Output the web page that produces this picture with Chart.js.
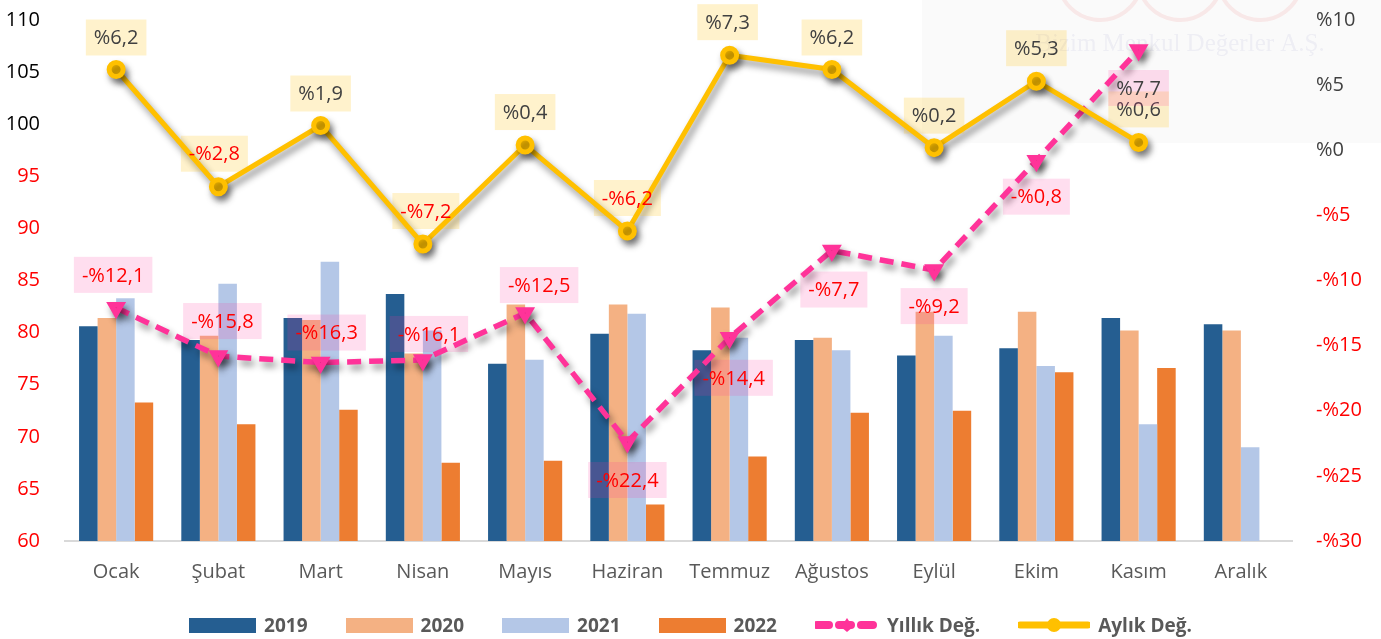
<!DOCTYPE html>
<html lang="tr">
<head>
<meta charset="utf-8">
<title>Aylık / Yıllık Değişim</title>
<script src="https://cdn.jsdelivr.net/npm/chart.js@4/dist/chart.umd.min.js"></script>
<style>
html,body{margin:0;padding:0;background:#fff;}
#wrap{position:relative;width:1381px;height:639px;}
#legend{position:absolute;left:0;top:612px;width:1381px;height:26px;display:flex;justify-content:center;align-items:center;gap:38px;
  font-family:"Open Sans",sans-serif;font-weight:bold;font-size:19px;color:#595959;}
#legend .item{display:flex;align-items:center;gap:8px;}
#legend .box{width:67px;height:15px;}
</style>
</head>
<body>
<div id="wrap">
  <canvas id="chart" width="1381" height="639"></canvas>
  <div id="legend"></div>
</div>
<script>
const months=["Ocak","Şubat","Mart","Nisan","Mayıs","Haziran","Temmuz","Ağustos","Eylül","Ekim","Kasım","Aralık"];
const v2019=[80.6,79.3,81.4,83.7,77.0,79.9,78.3,79.3,77.8,78.5,81.4,80.8];
const v2020=[81.4,79.7,81.2,78.0,82.7,82.7,82.4,79.5,82.0,82.0,80.2,80.2];
const v2021=[83.3,84.7,86.8,80.2,77.4,81.8,79.5,78.3,79.7,76.8,71.2,69.0];
const v2022=[73.3,71.2,72.6,67.5,67.7,63.5,68.1,72.3,72.5,76.2,76.6,null];
const yillik=[-12.1,-15.8,-16.3,-16.1,-12.5,-22.4,-14.4,-7.7,-9.2,-0.8,7.7,null];
const aylik=[6.2,-2.8,1.9,-7.2,0.4,-6.2,7.3,6.2,0.2,5.3,0.6,null];
const leftTicks={min:60,max:110,step:5};
const rightTicks={min:-30,max:10,step:5};

// label offsets (px) from each point
const yillikOff=[[-3,-33],[4,-35],[6,-30],[6,-26],[14,-28],[0,38],[4,40],[2,39],[0,36],[0,36],[0,38],[0,0]];
const aylikOff=[[0,-32],[-4,-33],[0,-32],[3,-33],[0,-33],[0,-33],[-2,-33],[0,-32],[0,-32],[0,-33],[0,-33],[0,0]];

const FONT='"Open Sans", sans-serif';
const pink="#FF3399",gold="#FFC000";
const fmtPct=v=>(v<0?"-%":"%")+Math.abs(v).toFixed(1).replace(".",",");

const watermark={id:"watermark",beforeDraw(c){
  const ctx=c.ctx;ctx.save();
  ctx.fillStyle="rgba(0,0,0,0.018)";ctx.fillRect(922,0,459,143);
  ctx.strokeStyle="rgba(240,160,160,0.2)";ctx.lineWidth=4;
  [1100,1180,1260].forEach(x=>{ctx.beginPath();ctx.arc(x,-22,42,0.15,Math.PI-0.15);ctx.stroke();});
  ctx.fillStyle="rgba(190,190,220,0.22)";ctx.font='25px "Liberation Serif", serif';ctx.textAlign="center";ctx.textBaseline="middle";
  ctx.fillText("Bizim Menkul Değerler A.Ş.",1180,44);
  ctx.restore();
}};
const shadow={id:"shadow",
  beforeDatasetDraw(c,a){if(c.data.datasets[a.index].type!=="line")return;const ctx=c.ctx;ctx.save();
    ctx.shadowColor="rgba(0,0,0,0.45)";ctx.shadowBlur=7;ctx.shadowOffsetX=3;ctx.shadowOffsetY=5;},
  afterDatasetDraw(c,a){if(c.data.datasets[a.index].type==="line")c.ctx.restore();}
};
const boxLabels={id:"boxLabels",afterDatasetsDraw(c){
  const ctx=c.ctx;ctx.save();ctx.font="20px "+FONT;ctx.textAlign="center";ctx.textBaseline="middle";
  [[5,aylikOff,"rgba(255,192,0,0.2)"],[4,yillikOff,"rgba(255,51,153,0.16)"]].forEach(([di,off,bg])=>{
    const ds=c.data.datasets[di],meta=c.getDatasetMeta(di);
    ds.data.forEach((v,i)=>{
      if(v==null)return;const p=meta.data[i],t=fmtPct(v),w=ctx.measureText(t).width+16,h=36;
      const x=p.x+off[i][0],y=p.y+off[i][1];
      ctx.fillStyle=bg;ctx.fillRect(x-w/2,y-h/2,w,h);
      ctx.fillStyle=v<0?"#FF0000":"#404040";ctx.fillText(t,x,y+1);
    });
  });
  ctx.restore();
}};
const fitY=w=>s=>{s.width=w;s.paddingTop=0;s.paddingBottom=0;};

const bar=(label,data,color)=>({type:"bar",label,data,backgroundColor:color,yAxisID:"y",order:2,categoryPercentage:0.725,barPercentage:1});
new Chart(document.getElementById("chart"),{
  data:{labels:months,datasets:[
    bar("2019",v2019,"#255E91"),
    bar("2020",v2020,"#F4B183"),
    bar("2021",v2021,"#B4C7E7"),
    bar("2022",v2022,"#ED7D31"),
    {type:"line",label:"Yıllık Değ.",data:yillik,yAxisID:"y1",order:1,borderColor:pink,borderWidth:5.5,borderDash:[14,8],
      pointStyle:"triangle",rotation:180,pointRadius:6,pointBackgroundColor:pink,pointBorderColor:pink,tension:0},
    {type:"line",label:"Aylık Değ.",data:aylik,yAxisID:"y1",order:0,borderColor:gold,borderWidth:5,
      pointRadius:7,pointBackgroundColor:gold,pointBorderColor:gold,tension:0}
  ]},
  options:{responsive:false,animation:false,
    layout:{padding:{top:20,bottom:40,left:0,right:0}},
    plugins:{legend:{display:false},tooltip:{enabled:false}},
    scales:{
      x:{grid:{display:false,drawTicks:false},border:{color:"#D9D9D9",width:2},
        ticks:{color:"#595959",font:{family:FONT,size:20},padding:19},afterFit:s=>{s.height=58;}},
      y:{position:"left",min:leftTicks.min,max:leftTicks.max,grid:{display:false,drawTicks:false},border:{display:false},
        ticks:{stepSize:leftTicks.step,padding:25,font:{family:FONT,size:20},color:t=>t.tick.value<=95?"#FF0000":"#000000"},
        afterFit:fitY(65)},
      y1:{position:"right",min:rightTicks.min,max:rightTicks.max,grid:{display:false,drawTicks:false},border:{display:false},
        ticks:{stepSize:rightTicks.step,padding:24,font:{family:FONT,size:20},callback:v=>(v<0?"-%":"%")+Math.abs(v),
          color:t=>t.tick.value<0?"#FF0000":"#404040"},
        afterFit:fitY(89)}
    }},
  plugins:[watermark,shadow,boxLabels]
});

// legend
const lg=document.getElementById("legend");
[["2019","#255E91"],["2020","#F4B183"],["2021","#B4C7E7"],["2022","#ED7D31"]].forEach(([t,c])=>{
  lg.innerHTML+=`<div class="item"><div class="box" style="background:${c}"></div><span>${t}</span></div>`;
});
lg.innerHTML+=`<div class="item"><svg width="64" height="20"><line x1="2" y1="10" x2="62" y2="10" stroke="${pink}" stroke-width="8" stroke-dasharray="12,10" stroke-linecap="round"/><polygon points="32,3 38,12 32,17 26,12" fill="${pink}"/></svg><span>Yıllık Değ.</span></div>`;
lg.innerHTML+=`<div class="item"><svg width="72" height="20"><line x1="2" y1="10" x2="70" y2="10" stroke="${gold}" stroke-width="7" stroke-linecap="round"/><circle cx="36" cy="10" r="7" fill="${gold}"/></svg><span>Aylık Değ.</span></div>`;
</script>
</body>
</html>
